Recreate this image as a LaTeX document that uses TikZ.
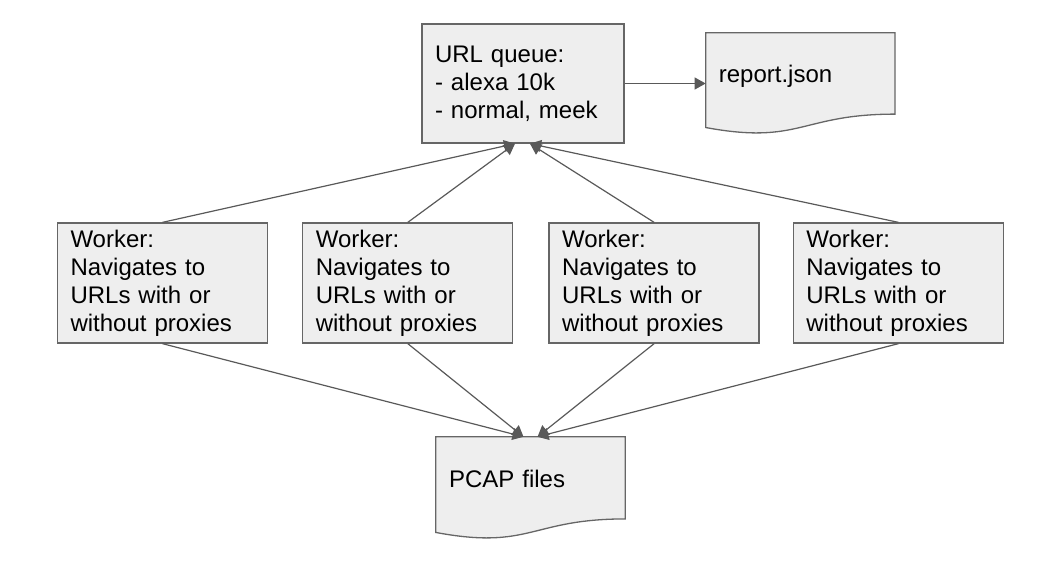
\documentclass[tikz,border=0pt]{standalone}
\usepackage{fontspec}
\setmainfont{Liberation Sans}
\usepackage{tikz}
\usetikzlibrary{positioning, arrows.meta, calc, backgrounds}

\definecolor{boxfill}{HTML}{EEEEEE}
\definecolor{boxline}{HTML}{666666}
\definecolor{linkgray}{HTML}{595959}

% outline of a document shape on the box of a node
\newcommand{\docoutline}[1]{%
    \filldraw[draw=boxline, fill=boxfill, line width=1.3pt]
        (#1.north west) -- (#1.north east) -- ($(#1.north east)!0.802!(#1.south east)$)
        .. controls ($(#1.north)!0.802!(#1.south)$) and ($(#1.north)!1.1075!(#1.south)$)
        .. ($(#1.north west)!0.934!(#1.south west)$) -- cycle;}

\begin{document}
\begin{tikzpicture}[x=1pt, y=-1pt,
        txt/.style={align=left, inner xsep=13pt, inner ysep=0pt, font=\fontsize{24}{28}\selectfont},
        box/.style={txt, draw=boxline, fill=boxfill, line width=1.3pt},
        worker/.style={box, minimum width=210pt, minimum height=120pt, text width=184pt},
        doc/.style={txt, minimum width=189pt, minimum height=102pt, text width=163pt, text height=17pt, text depth=19pt},
        link/.style={draw=linkgray, line width=1.2pt, -{Triangle[length=11pt, width=12pt]}}]
    \useasboundingbox (0,0) rectangle (1039,562);

    \node (url) [box, minimum width=202pt, minimum height=119pt, text width=176pt] at (523,83.5)
        {URL queue:\\- alexa 10k\\- normal, meek};
    \node (report) [doc, minimum height=101pt, right=81pt of url] {report.json};

    \node (w1) [worker] at (162.5,283) {Worker:\\Navigates to\\URLs with or\\without proxies};
    \node (w2) [worker, right=34pt of w1] {Worker:\\Navigates to\\URLs with or\\without proxies};
    \node (w3) [worker, right=35pt of w2] {Worker:\\Navigates to\\URLs with or\\without proxies};
    \node (w4) [worker, right=33pt of w3] {Worker:\\Navigates to\\URLs with or\\without proxies};

    \node (pcap) [doc] at (530.5,488) {PCAP files};

    \begin{scope}[on background layer]
        \docoutline{report}
        \docoutline{pcap}
    \end{scope}

    \draw [link] (url.east) -- (report.west);

    \draw [link] (w1.north) -- ([xshift=-8pt]url.south);
    \draw [link] (w2.north) -- ([xshift=-8pt]url.south);
    \draw [link] (w3.north) -- ([xshift=7pt]url.south);
    \draw [link] (w4.north) -- ([xshift=7pt]url.south);

    \draw [link] (w1.south) -- ([xshift=-7pt]pcap.north);
    \draw [link] (w2.south) -- ([xshift=-7pt]pcap.north);
    \draw [link] (w3.south) -- ([xshift=7pt]pcap.north);
    \draw [link] (w4.south) -- ([xshift=7pt]pcap.north);
\end{tikzpicture}
\end{document}
